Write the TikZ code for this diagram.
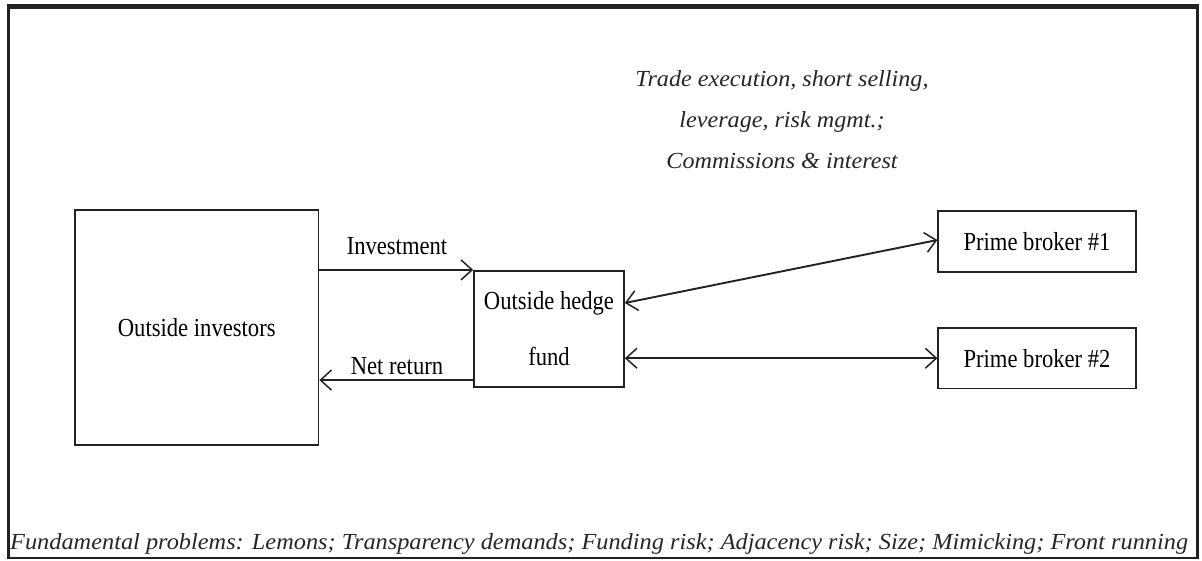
\documentclass[tikz,border=0pt]{standalone}
\usepackage{fontspec}
\setmainfont{Liberation Serif}
\newfontfamily\condfont{Liberation Serif}[FakeStretch=0.87]
\newfontfamily\slfont{Liberation Serif}[FakeStretch=1.05]
\newfontfamily\slbfont{Liberation Serif}[FakeStretch=1.058]
\usetikzlibrary{arrows.meta}
\definecolor{ink}{HTML}{222222}
\tikzset{
  box/.style={draw=ink, line width=1.7pt, rectangle, inner sep=0pt, font=\condfont\fontsize{26}{30}\selectfont, text=black},
  flow/.style={draw=ink, line width=1.9pt, -{Straight Barb[length=11pt,width=20pt,line width=1.5pt]}},
  flowboth/.style={draw=ink, line width=1.9pt, {Straight Barb[length=11pt,width=20pt,line width=1.5pt]}-{Straight Barb[length=11pt,width=20pt,line width=1.5pt]}},
  lbl/.style={font=\condfont\fontsize{26}{30}\selectfont, text=black, inner sep=0pt},
  note/.style={font=\slfont\itshape\fontsize{23}{41}\selectfont, text=black!85, inner sep=0pt, align=center}
}
\begin{document}
\begin{tikzpicture}[x=1pt,y=-1pt]
\useasboundingbox (0,0) rectangle (1202,561);
% frame
\draw[ink, line width=2.5pt] (8.5,6.5) rectangle (1197.5,558);
\draw[ink, line width=5pt] (7.25,6.5) -- (1198.75,6.5);
% nodes
\node[box, minimum width=243.5pt, minimum height=235pt] (inv) at (196.75,327.5) {Outside investors};
\node[box, minimum width=150pt, minimum height=116.5pt, align=center, font=\condfont\fontsize{26}{56}\selectfont] (hf) at (549,329) {Outside hedge\\fund};
\node[box, minimum width=197.5pt, minimum height=61pt] (pb1) at (1037,241.5) {Prime broker \#1};
\node[box, minimum width=197.5pt, minimum height=60.5pt] (pb2) at (1037,358.25) {Prime broker \#2};
% connectors
\coordinate (nr) at ([yshift=8pt]hf.south west);
\coordinate (hfa) at ([yshift=26pt]hf.east);
\draw[flow] (inv.east |- hf.north west) -- (hf.north west);
\draw[flow] (nr) -- (inv.east |- nr);
\draw[flowboth] (hfa) -- ([yshift=1.5pt]pb1.west);
\draw[flowboth] (hf.east |- pb2.west) -- (pb2.west);
% labels
\node[lbl] (linv) at (397,246) {Investment};
\node[lbl] (lnr) at (397,366) {Net return};
\node[note] (trade) at (782,120) {Trade execution, short selling,\\leverage, risk mgmt.;\\Commissions \& interest};
\node[note, anchor=base west, font=\slbfont\itshape\fontsize{23}{41}\selectfont] (fund) at (10,549) {Fundamental problems: Lemons; Transparency demands; Funding risk; Adjacency risk; Size; Mimicking; Front running};
\end{tikzpicture}
\end{document}
